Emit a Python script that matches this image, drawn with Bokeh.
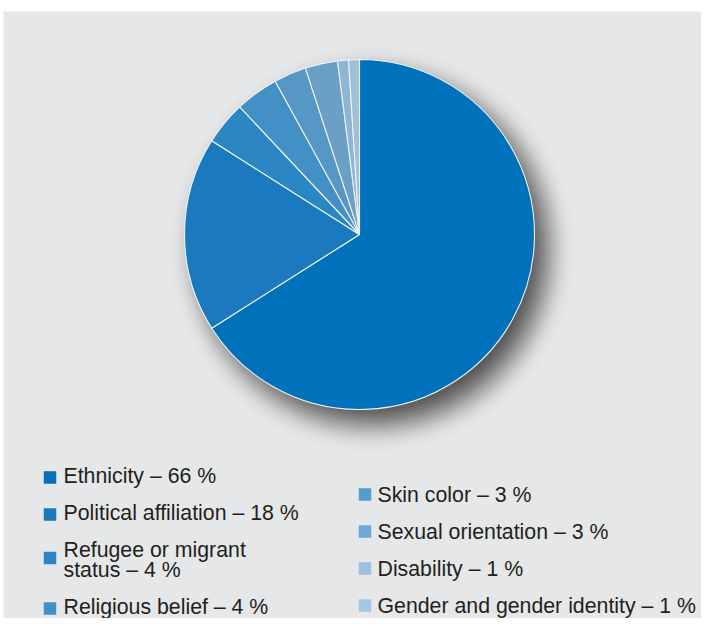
import math
import numpy as np
from bokeh.plotting import figure
from bokeh.models import Range1d, ColumnDataSource
from bokeh.core.properties import value
from bokeh.embed import file_html
from bokeh.resources import INLINE

# ---------------- data ----------------
categories = ["Ethnicity", "Political affiliation", "Refugee or migrant status",
              "Religious belief", "Skin color", "Sexual orientation",
              "Disability", "Gender and gender identity"]
shares = [66, 18, 4, 4, 3, 3, 1, 1]
legend_labels = ["Ethnicity – 66 %", "Political affiliation – 18 %",
                 "Refugee or migrant\nstatus – 4 %", "Religious belief – 4 %",
                 "Skin color – 3 %", "Sexual orientation – 3 %",
                 "Disability – 1 %", "Gender and gender identity – 1 %"]
wedge_colors = ["#0071bb", "#1b7abf", "#2d86c4", "#4290c6",
                "#5797c6", "#6a9fc6", "#8db6d4", "#a0c0da"]
legend_colors = ["#0a6fb8", "#1979bf", "#2c86c5", "#438fc6",
                 "#559cce", "#6ea8d3", "#9ec2dd", "#a6c6df"]

# ---------------- layout (picture pixel coordinates) ----------------
W, H = 701, 618
cx, cy, R = 359, 234, 175

p = figure(width=W, height=H, x_range=Range1d(3, W), y_range=Range1d(-H, -11),
           output_backend="svg", toolbar_location=None,
           x_axis_location=None, y_axis_location=None,
           min_border=0, min_border_top=11, min_border_left=3,
           min_border_right=0, min_border_bottom=0)
p.grid.visible = False
p.outline_line_color = None
p.background_fill_color = "#e6e7e8"
p.border_fill_color = "white"

# ---------------- soft drop shadow ----------------
scx, scy, sigma, amax = cx + 13, cy + 15, 14.0, 0.62
radii = np.arange(R + 3 * sigma, R - 3 * sigma, -1.0)
f = np.array([amax * 0.5 * (1 + math.erf((R - r) / (sigma * math.sqrt(2)))) for r in radii])
prev = np.concatenate([[0.0], f[:-1]])
alphas = 1 - (1 - f) / (1 - prev)
p.circle(x=[scx] * len(radii), y=[-scy] * len(radii), radius=radii,
         fill_color="black", fill_alpha=alphas, line_color=None)

# ---------------- pie ----------------
total = float(sum(shares))
cum = np.cumsum([0] + shares) / total
start = [math.pi / 2 - 2 * math.pi * c for c in cum[:-1]]
end = [math.pi / 2 - 2 * math.pi * c for c in cum[1:]]
src = ColumnDataSource(dict(cat=categories, start=start, end=end, color=wedge_colors))
p.wedge(x=cx, y=-cy, radius=R, start_angle="start", end_angle="end",
        direction="clock", fill_color="color", line_color="#eef2f6",
        line_width=1.1, source=src)

# ---------------- legend ----------------
font = value("Liberation Sans")
fs = "21.3px"
TEXT_FIX = 8          # svg text sits lower than the requested baseline
STEP, LINE = 37.0, 20
tx, ty, txt, sqx, sqy, sq_cols = [], [], [], [], [], []
cols = [(43 + 6.5, 63, 483, 0, 4, 6.0), (358 + 6.5, 377, 502, 4, 8, 8.0)]
for sx, textx, base, i0, i1, off in cols:
    y = base
    for i in range(i0, i1):
        lines = legend_labels[i].split("\n")
        first = y
        for ln in lines:
            tx.append(textx)
            ty.append(-(y - TEXT_FIX))
            txt.append(ln)
            y += LINE
        last = y - LINE
        if len(lines) > 1:
            cy_sq = (first + last) / 2 - 9.5
        else:
            cy_sq = first - off
        sqx.append(sx)
        sqy.append(-cy_sq)
        sq_cols.append(legend_colors[i])
        y = last + STEP

p.rect(x=sqx, y=sqy, width=12.5, height=12.5, fill_color=sq_cols, line_color=None)
p.text(x=tx, y=ty, text=txt, text_font=font, text_font_size=fs,
       text_baseline="alphabetic", text_align="left", text_color="#231f20")

open("out.html", "w").write(file_html(p, INLINE))
